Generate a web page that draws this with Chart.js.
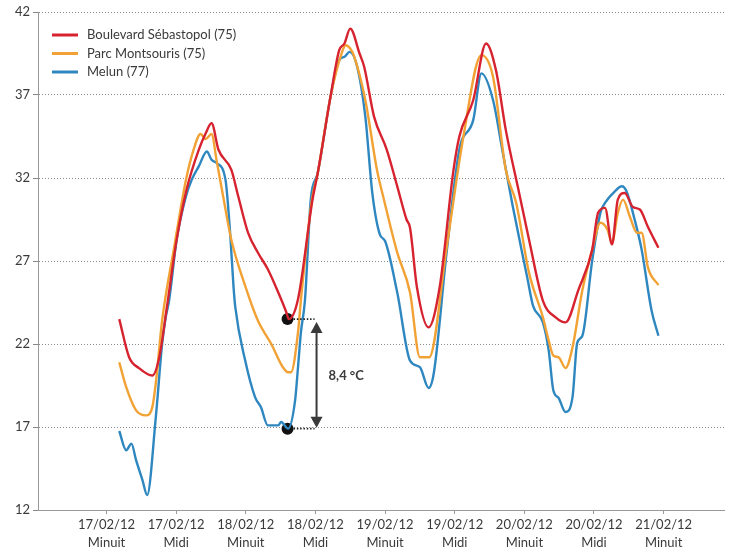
<!DOCTYPE html>
<html>
<head>
<meta charset="utf-8">
<script src="https://cdn.jsdelivr.net/npm/chart.js@4/dist/chart.umd.min.js"></script>
<style>
html,body{margin:0;padding:0;background:#fff}
#wrap{width:730px;height:548px;position:relative}
</style>
</head>
<body>
<div id="wrap"><canvas id="c" width="730" height="548"></canvas></div>
<script>
// ---- Axis ticks ----
const tickHours = [0, 12, 24, 36, 48, 60, 72, 84, 96];
const tickDates = ['17/02/12','17/02/12','18/02/12','18/02/12','19/02/12','19/02/12','20/02/12','20/02/12','21/02/12'];
const tickTimes = ['Minuit','Midi','Minuit','Midi','Minuit','Midi','Minuit','Midi','Minuit'];
const yTicks = [12, 17, 22, 27, 32, 37, 42];

// ---- Series (hours since 17/02/12 midnight, °C) ----
const seriesNames = ['Boulevard Sébastopol (75)', 'Parc Montsouris (75)', 'Melun (77)'];
const seriesColors = ['#d6232f', '#f2a234', '#2f87c0'];

const hoursRed = [2.2,3.9,5.6,7.9,9.1,10.4,12.1,13.8,15.9,17.1,18.1,19.3,21.5,22.7,24.4,26.1,27.8,29.6,31.0,31.4,33.0,35.5,36.4,38.6,40.1,41.0,42.0,43.6,44.4,46.1,48.3,50.1,51.7,52.3,53.5,55.5,57.4,59.8,60.8,63.2,65.4,67.1,68.8,71.1,72.8,75.2,77.4,79.1,81.3,83.7,84.7,85.9,87.1,88.1,89.3,90.7,91.9,93.3,95.1];
const tempsRed = [23.5,21.2,20.55,20.1,21.2,24.2,28.3,31.3,33.7,34.7,35.3,33.7,32.5,30.9,28.7,27.5,26.5,25.1,23.9,23.5,24.7,30.7,32.3,36.9,39.7,40.1,41.0,39.5,38.7,35.7,33.7,31.5,29.5,29.0,25.4,23.0,25.4,32.5,34.5,36.7,40.1,38.5,34.9,31.1,28.3,24.6,23.6,23.3,25.25,27.7,29.9,30.2,28.0,30.7,31.1,30.25,30.1,29.05,27.8];

const hoursOrange = [2.2,3.4,5.1,6.8,7.9,8.5,9.6,11.6,13.7,15.0,16.2,17.1,18.1,19.0,20.2,21.5,23.9,26.1,28.4,30.4,31.3,31.8,33.0,33.5,35.4,36.4,38.6,40.6,41.2,42.0,42.7,44.6,46.6,47.8,50.1,52.3,54.0,55.6,58.6,61.5,64.6,66.6,68.8,70.6,72.8,75.2,76.2,77.0,77.9,79.1,80.3,82.0,83.7,85.1,86.3,87.1,88.1,89.0,90.2,91.4,92.2,93.3,95.1];
const tempsOrange = [20.9,19.4,18.0,17.7,18.2,19.65,23.45,27.7,31.9,33.7,34.65,34.35,34.65,33.0,30.7,28.3,25.5,23.4,22.0,20.6,20.3,20.3,22.7,24.65,30.7,32.3,36.9,39.6,40.0,39.8,39.3,36.7,32.5,30.7,27.5,25.1,21.2,21.2,27.8,34.5,39.4,38.1,32.5,30.5,26.3,23.6,22.2,21.3,21.2,20.55,21.8,25.25,27.7,29.3,28.9,28.1,29.9,30.7,29.65,28.7,28.7,26.6,25.55];

const hoursBlue = [2.2,3.4,4.3,5.1,6.2,7.0,8.5,9.6,10.2,10.8,12.1,13.7,14.7,15.9,17.3,18.1,19.0,20.5,21.3,21.9,22.2,23.9,25.6,26.6,27.8,29.6,30.1,31.3,32.5,33.0,33.5,34.2,35.2,36.4,38.6,40.1,41.0,41.9,43.2,44.6,45.8,47.1,48.0,50.1,52.3,54.0,55.5,56.4,58.6,60.8,63.2,64.6,66.6,68.3,70.0,72.5,73.5,75.2,76.2,77.0,77.9,79.1,80.3,81.1,82.0,83.7,85.1,85.9,87.6,88.8,89.6,91.0,92.2,93.9,95.1];
const tempsBlue = [16.76,15.6,16.0,15.0,13.8,12.9,17.6,22.05,23.6,24.65,28.3,30.9,31.9,32.7,33.6,33.1,32.9,31.9,28.7,25.4,24.2,21.0,18.8,18.2,17.1,17.1,17.3,16.9,18.6,20.6,22.7,24.65,30.7,32.3,36.9,39.1,39.3,39.6,38.7,35.7,31.1,28.6,28.2,25.1,21.0,20.6,19.35,20.25,27.5,33.7,35.5,38.3,36.7,33.5,30.3,26.0,24.3,23.3,21.6,19.2,18.75,17.9,18.8,22.05,22.5,27.05,29.9,30.5,31.2,31.5,31.2,29.5,27.7,24.05,22.5];

// ---- Annotation (gap between Sébastopol and Melun) ----
const markerHour = 31.2;
const markerTemps = [23.5, 16.9];
const markerLabel = '8,4 °C';

const FONT = 'Lato, "Open Sans", sans-serif';
const TEXT = '#3a3a3a';

function pts(h, t) { return h.map((v, i) => ({ x: v, y: t[i] })); }

const legendPlugin = {
  id: 'insideLegend',
  afterDraw(chart) {
    const ctx = chart.ctx, a = chart.chartArea;
    ctx.save();
    ctx.font = '13px ' + FONT;
    ctx.textBaseline = 'middle';
    ctx.textAlign = 'left';
    for (let i = 0; i < 3; i++) {
      const ds = chart.data.datasets[i];
      const y = a.top + 23 + i * 18.5;
      ctx.strokeStyle = ds.borderColor;
      ctx.lineWidth = 3;
      ctx.beginPath();
      ctx.moveTo(a.left + 14, y);
      ctx.lineTo(a.left + 40, y);
      ctx.stroke();
      ctx.fillStyle = TEXT;
      ctx.fillText(ds.label, a.left + 49, y);
    }
    ctx.restore();
  }
};

const annotPlugin = {
  id: 'gapArrow',
  afterDatasetsDraw(chart) {
    const ctx = chart.ctx, xs = chart.scales.x, ys = chart.scales.y;
    const px = xs.getPixelForValue(markerHour);
    const yT = ys.getPixelForValue(markerTemps[0]);
    const yB = ys.getPixelForValue(markerTemps[1]);
    ctx.save();
    // dotted leaders
    ctx.strokeStyle = '#222';
    ctx.lineWidth = 1.6;
    ctx.setLineDash([1.5, 1.8]);
    [yT, yB].forEach(y => {
      ctx.beginPath(); ctx.moveTo(px + 6, y); ctx.lineTo(px + 27, y); ctx.stroke();
    });
    ctx.setLineDash([]);
    // arrow
    const ax = px + 29;
    const top = yT + 3, bot = yB - 1;
    ctx.strokeStyle = '#3a3a3a';
    ctx.fillStyle = '#3a3a3a';
    ctx.lineWidth = 2;
    ctx.beginPath(); ctx.moveTo(ax, top + 8); ctx.lineTo(ax, bot - 8); ctx.stroke();
    ctx.beginPath(); ctx.moveTo(ax, top); ctx.lineTo(ax - 6, top + 11); ctx.lineTo(ax + 6, top + 11); ctx.closePath(); ctx.fill();
    ctx.beginPath(); ctx.moveTo(ax, bot); ctx.lineTo(ax - 6, bot - 11); ctx.lineTo(ax + 6, bot - 11); ctx.closePath(); ctx.fill();
    // label
    ctx.font = 'bold 13px ' + FONT;
    ctx.textBaseline = 'middle';
    ctx.textAlign = 'left';
    ctx.fillStyle = '#3a3a3a';
    ctx.fillText(markerLabel, ax + 12, (yT + yB) / 2 + 2);
    ctx.restore();
  }
};

const lineDs = (name, color, h, t) => ({
  type: 'line', label: name, data: pts(h, t),
  borderColor: color, backgroundColor: color, borderWidth: 2.4,
  pointRadius: 0, cubicInterpolationMode: 'monotone', fill: false
});

new Chart(document.getElementById('c'), {
  type: 'line',
  data: {
    datasets: [
      lineDs(seriesNames[0], seriesColors[0], hoursRed, tempsRed),
      lineDs(seriesNames[1], seriesColors[1], hoursOrange, tempsOrange),
      lineDs(seriesNames[2], seriesColors[2], hoursBlue, tempsBlue),
      {
        type: 'scatter', label: 'markers',
        data: markerTemps.map(t => ({ x: markerHour, y: t })),
        pointRadius: 6, pointBackgroundColor: '#111', pointBorderColor: '#111', pointBorderWidth: 0
      }
    ]
  },
  options: {
    responsive: false,
    animation: false,
    layout: { padding: { top: 12, left: 0, right: 0, bottom: 0 } },
    plugins: { legend: { display: false }, tooltip: { enabled: false } },
    scales: {
      x: {
        type: 'linear', min: -11.8, max: 106.4,
        afterBuildTicks: s => { s.ticks = tickHours.map(v => ({ value: v })); },
        afterFit: s => { s.height = 38; },
        ticks: {
          autoSkip: false, maxRotation: 0, padding: 2,
          color: TEXT, font: { family: FONT, size: 13, lineHeight: 1.35 },
          callback: (v) => { const i = tickHours.indexOf(v); return i < 0 ? '' : [tickDates[i], tickTimes[i]]; }
        },
        grid: { drawOnChartArea: false, drawTicks: true, tickLength: 4, color: '#999' },
        border: { display: true, color: '#999', width: 1 }
      },
      y: {
        min: 12, max: 42,
        afterBuildTicks: s => { s.ticks = yTicks.map(v => ({ value: v })); },
        afterFit: s => { s.width = 38; },
        ticks: { padding: 3, color: TEXT, font: { family: FONT, size: 13 } },
        grid: { color: '#8a8a8a', lineWidth: 1, tickLength: 5, drawTicks: true, tickColor: '#888' },
        border: { display: true, color: '#999', width: 1, dash: [1, 2] }
      }
    }
  },
  plugins: [legendPlugin, annotPlugin]
});
</script>
</body>
</html>
